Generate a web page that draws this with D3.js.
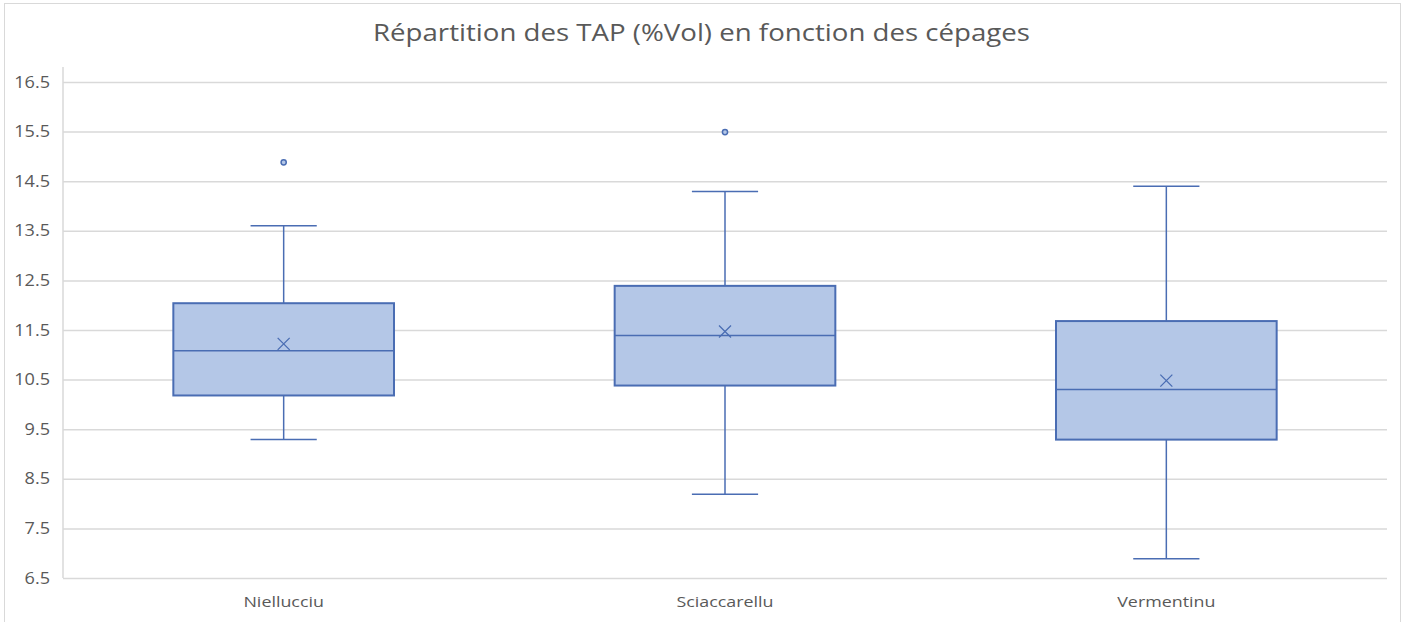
<!DOCTYPE html>
<html><head><meta charset="utf-8">
<script src="https://cdn.jsdelivr.net/npm/d3@7"></script>
<style>body{margin:0;background:#fff}svg{display:block}text{font-family:"Open Sans",sans-serif}</style>
</head><body><svg id="c" width="1408" height="622"></svg>
<script>
const title = "Répartition des TAP (%Vol) en fonction des cépages";
const categories = ["Niellucciu", "Sciaccarellu", "Vermentinu"];
const whiskerLow = [9.29, 8.19, 6.89];
const q1 = [10.18, 10.38, 9.29];
const median = [11.08, 11.39, 10.3];
const q3 = [12.04, 12.39, 11.68];
const whiskerHigh = [13.6, 14.29, 14.4];
const mean = [11.22, 11.47, 10.48];
const outliers = [[14.88], [15.49], []];
const yTicks = [6.5, 7.5, 8.5, 9.5, 10.5, 11.5, 12.5, 13.5, 14.5, 15.5, 16.5];

const svg = d3.select("#c");
const W = 1408, H = 622;
const m = {left: 63, right: 21, top: 82, bottom: 44};
const stroke = "#4A6DB3", fill = "#B4C7E7", grid = "#D9D9D9", txt = "#595959";

svg.append("rect").attr("x", 4.5).attr("y", 3.5).attr("width", 1396).attr("height", 640)
  .attr("fill", "#fff").attr("stroke", "#D9D9D9");

const x = d3.scaleBand().domain(categories).range([m.left, W - m.right]).paddingInner(0).paddingOuter(0);
const y = d3.scaleLinear().domain([6.5, 16.5]).range([H - m.bottom, m.top]);

// gridlines
const yAxis = d3.axisLeft(y).tickValues(yTicks).tickFormat(d3.format(".1f")).tickSize(-(W - m.right - m.left)).tickPadding(13);
const gy = svg.append("g").attr("transform", `translate(${m.left},0)`).call(yAxis);
gy.select(".domain").remove();
gy.selectAll(".tick line").attr("stroke", grid).attr("stroke-width", 1.5);
gy.selectAll(".tick text").attr("fill", txt).attr("font-size", 16)
  .each(function () { const w = this.getComputedTextLength(); d3.select(this).attr("textLength", w * 1.13).attr("lengthAdjust", "spacingAndGlyphs"); });
// left vertical axis line
svg.append("line").attr("x1", m.left).attr("x2", m.left).attr("y1", 67).attr("y2", y(6.5))
  .attr("stroke", grid).attr("stroke-width", 1.5);

const xAxis = d3.axisBottom(x).tickSize(0).tickPadding(18);
const gx = svg.append("g").attr("transform", `translate(0,${y(6.5)})`).call(xAxis);
gx.select(".domain").remove();
gx.selectAll(".tick text").attr("fill", txt).attr("font-size", 15)
  .each(function () { const w = this.getComputedTextLength(); d3.select(this).attr("textLength", w * 1.19).attr("lengthAdjust", "spacingAndGlyphs"); });

const bw = x.bandwidth() * 0.5, cw = x.bandwidth() * 0.15;
categories.forEach((c, i) => {
  const cx = x(c) + x.bandwidth() / 2;
  const g = svg.append("g");
  g.append("line").attr("x1", cx).attr("x2", cx).attr("y1", y(whiskerHigh[i])).attr("y2", y(q3[i])).attr("stroke", stroke).attr("stroke-width", 1.5);
  g.append("line").attr("x1", cx).attr("x2", cx).attr("y1", y(q1[i])).attr("y2", y(whiskerLow[i])).attr("stroke", stroke).attr("stroke-width", 1.5);
  g.append("line").attr("x1", cx - cw / 2).attr("x2", cx + cw / 2).attr("y1", y(whiskerHigh[i])).attr("y2", y(whiskerHigh[i])).attr("stroke", stroke).attr("stroke-width", 1.5);
  g.append("line").attr("x1", cx - cw / 2).attr("x2", cx + cw / 2).attr("y1", y(whiskerLow[i])).attr("y2", y(whiskerLow[i])).attr("stroke", stroke).attr("stroke-width", 1.5);
  g.append("rect").attr("x", cx - bw / 2).attr("y", y(q3[i])).attr("width", bw).attr("height", y(q1[i]) - y(q3[i]))
    .attr("fill", fill).attr("stroke", stroke).attr("stroke-width", 2);
  g.append("line").attr("x1", cx - bw / 2).attr("x2", cx + bw / 2).attr("y1", y(median[i])).attr("y2", y(median[i])).attr("stroke", stroke).attr("stroke-width", 1.5);
  const s = 6, my = y(mean[i]);
  g.append("path").attr("d", `M${cx - s},${my - s}L${cx + s},${my + s}M${cx - s},${my + s}L${cx + s},${my - s}`)
    .attr("stroke", stroke).attr("stroke-width", 1.3).attr("fill", "none");
  outliers[i].forEach(v => {
    g.append("circle").attr("cx", cx).attr("cy", y(v)).attr("r", 2.6).attr("fill", fill).attr("stroke", stroke).attr("stroke-width", 1.5);
  });
});

svg.append("text").attr("x", 701.5).attr("y", 41).attr("text-anchor", "middle")
  .attr("font-size", 23).attr("fill", txt).attr("textLength", 657).attr("lengthAdjust", "spacingAndGlyphs").text(title);
</script></body></html>
